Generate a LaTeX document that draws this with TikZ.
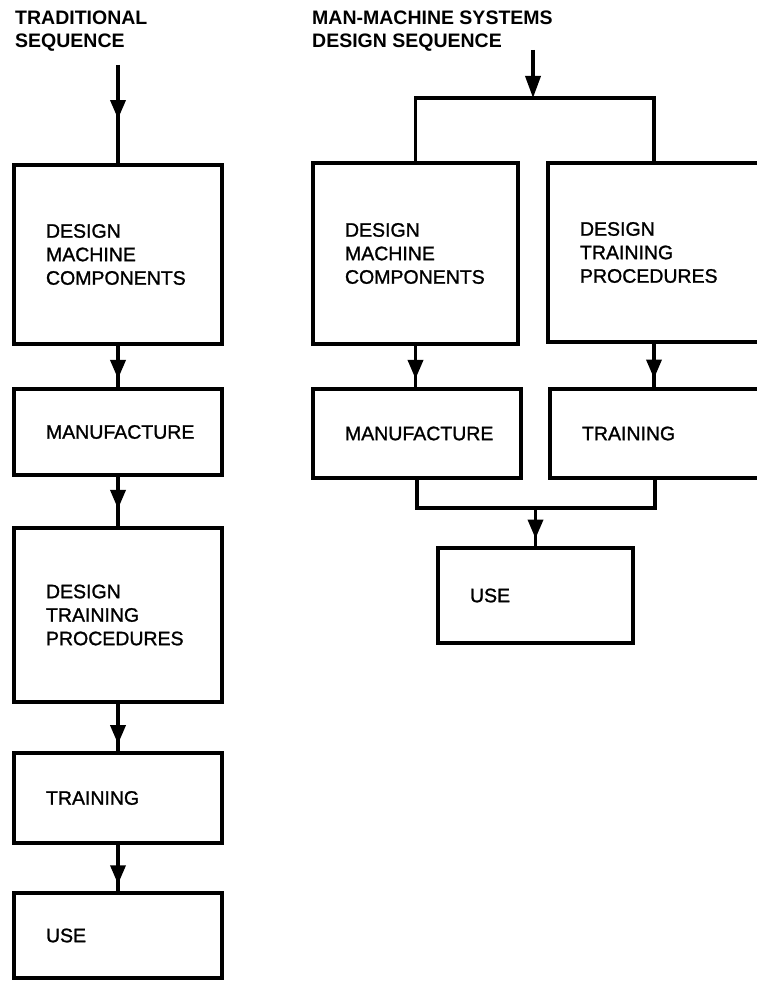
\documentclass[tikz,border=0pt]{standalone}
\usepackage{fontspec}
\setmainfont{Liberation Sans}
\newfontfamily\boxfont[FakeBold=1.2]{Liberation Sans}
\usetikzlibrary{arrows.meta,decorations.markings}
\begin{document}
\begin{tikzpicture}[x=1pt,y=-1pt,
  box/.style={draw, line width=3.5pt, inner xsep=32pt, inner ysep=0pt, align=left,
    font=\boxfont\fontsize{19.5}{23.5}\selectfont},
  titletext/.style={inner sep=0pt, align=left, font=\bfseries\fontsize{19.5}{23}\selectfont},
  line/.style={line width=3.5pt, line join=miter},
  flow/.style={line width=3.5pt, postaction={decorate},
    decoration={markings, mark=at position #1 with {\arrow{Triangle[length=19pt,width=15pt]}}}},
  flow/.default=0.8,
  tipflow/.style={line width=3.5pt, -{Triangle[length=22pt,width=15pt]}}
]
\useasboundingbox[fill=white] (0,0) rectangle (756,981);

% titles
\node[titletext, anchor=base west] (tl) at (15,48) {TRADITIONAL\\SEQUENCE};
\node[titletext, anchor=base west] (tr) at (312,48) {MAN-MACHINE SYSTEMS\\DESIGN SEQUENCE};

% traditional sequence
\node[box, text width=144pt, minimum height=179pt] (b1) at (118,254.5) {DESIGN\\MACHINE\\COMPONENTS};
\node[box, text width=144pt, minimum height=86pt] (b2) at (118,432) {MANUFACTURE};
\node[box, text width=144pt, minimum height=174pt] (b3) at (118,615) {DESIGN\\TRAINING\\PROCEDURES};
\node[box, text width=144pt, minimum height=90pt] (b4) at (118,798) {TRAINING};
\node[box, text width=144pt, minimum height=85pt] (b5) at (118,935.5) {USE};

\coordinate (ls) at (118,65);
\draw[flow=0.55] (ls) -- (b1.north);
\draw[flow] (b1.south) -- (b2.north);
\draw[flow=0.65] (b2.south) -- (b3.north);
\draw[flow=0.85] (b3.south) -- (b4.north);
\draw[flow=0.85] (b4.south) -- (b5.north);

% man-machine systems design sequence
\node[box, text width=141pt, minimum height=181pt] (ra) at (415.5,253.5) {DESIGN\\MACHINE\\COMPONENTS};
\node[box, text width=148pt, minimum height=179pt] (rb) at (654,252.5) {DESIGN\\TRAINING\\PROCEDURES};
\node[box, text width=144pt, minimum height=89pt] (rc) at (417,433.5) {MANUFACTURE};
\node[box, text width=146pt, minimum height=89pt] (rd) at (655,433.5) {TRAINING};
\node[box, text width=131pt, minimum height=95pt] (re) at (535.5,595.5) {USE};

\coordinate (rs) at (533,50);
\coordinate (rj) at (533,98);
\draw[tipflow] (rs) -- (rj);
\draw[line] (ra.north) |- (rj) -| (rb.north);
\draw[flow] (ra.south) -- (ra.south |- rc.north);
\draw[flow] (rb.south) -- (rb.south |- rd.north);
\coordinate (rm) at (535.5,508);
\draw[line] (rc.south) |- (rm) -| (rd.south);
\draw[flow=0.8] (rm) -- (re.north);
\end{tikzpicture}
\end{document}
